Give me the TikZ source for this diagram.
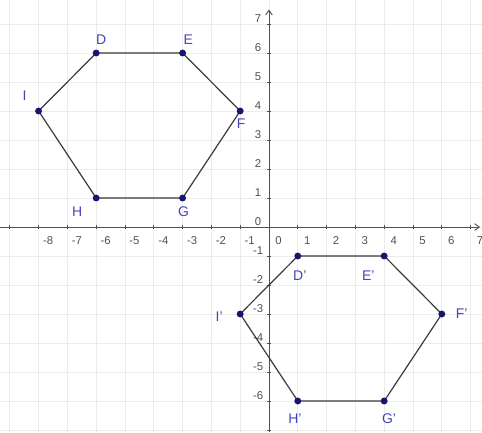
\documentclass[tikz,border=0pt]{standalone}
\usepackage{fontspec}
\setmainfont{Liberation Sans}
\usetikzlibrary{arrows.meta,calc}
\definecolor{ptcol}{HTML}{16166E}
\definecolor{lblcol}{HTML}{4545B8}
\definecolor{axcol}{HTML}{505050}
\definecolor{edgecol}{HTML}{3A3A3A}
\definecolor{gridcol}{HTML}{ECECEC}
\tikzset{
  gridline/.style={draw=gridcol, line width=0.6pt},
  axisline/.style={draw=axcol, line width=0.7pt},
  tickmark/.style={draw=axcol, line width=0.5pt},
  ticklbl/.style={text=axcol, font=\fontsize{8.5}{9}\selectfont, inner sep=0pt},
  edge/.style={draw=edgecol, line width=0.9pt, line join=round},
  ptdot/.style={fill=ptcol},
  ptlbl/.style={text=lblcol, font=\fontsize{10.5}{11}\selectfont, inner sep=0pt}
}
\begin{document}
\begin{tikzpicture}[x=21.6pt,y=21.75pt]
\useasboundingbox (-9.34,-7.069) rectangle (7.396,7.828);
% grid
\foreach \gx in {-9,...,7} \draw[gridline] (\gx,-7.069) -- (\gx,7.828);
\foreach \gy in {-7,...,7} \draw[gridline] (-9.34,\gy) -- (7.396,\gy);
% axes
\coordinate (xs) at (-9.34,0);
\coordinate (xe) at (7.33,0);
\coordinate (ys) at (0,-7.069);
\coordinate (ye) at (0,7.5);
\draw[axisline,-{Straight Barb[length=3.5pt,width=5pt]}] (xs) -- (xe);
\draw[axisline,-{Straight Barb[length=3.5pt,width=5pt]}] (ys) -- (ye);
% ticks
\foreach \tx in {-9,...,-1,1,2,...,7} \draw[tickmark] (\tx,-0.08) -- (\tx,0.08);
\foreach \ty in {-7,...,-1,1,2,...,7} \draw[tickmark] (-0.08,\ty) -- (0.08,\ty);
\foreach \tx in {-8,...,7} \node[ticklbl] (xl\tx) at (\tx+0.33,-0.48) {\tx};
\foreach \ty in {-6,...,7} \node[ticklbl] (yl\ty) at (-0.38,\ty+0.2) {\ty};
% original hexagon
\coordinate (D) at (-6,6);
\coordinate (E) at (-3,6);
\coordinate (F) at (-1,4);
\coordinate (G) at (-3,1);
\coordinate (H) at (-6,1);
\coordinate (I) at (-8,4);
\draw[edge] (D) -- (E) -- (F) -- (G) -- (H) -- (I) -- cycle;
% image hexagon
\coordinate (D') at (1,-1);
\coordinate (E') at (4,-1);
\coordinate (F') at (6,-3);
\coordinate (G') at (4,-6);
\coordinate (H') at (1,-6);
\coordinate (I') at (-1,-3);
\draw[edge] (D') -- (E') -- (F') -- (G') -- (H') -- (I') -- cycle;
% points
\foreach \p in {D,E,F,G,H,I,D',E',F',G',H',I'} \fill[ptdot] (\p) circle (2.6pt);
% labels
\node[ptlbl] (lD) at ($(D)+(0.17,0.45)$) {D};
\node[ptlbl] (lE) at ($(E)+(0.2,0.45)$) {E};
\node[ptlbl] (lF) at ($(F)+(0.03,-0.45)$) {F};
\node[ptlbl] (lG) at ($(G)+(0.03,-0.48)$) {G};
\node[ptlbl] (lH) at ($(H)+(-0.66,-0.48)$) {H};
\node[ptlbl] (lI) at ($(I)+(-0.49,0.52)$) {I};
\node[ptlbl] (lD') at ($(D')+(0.07,-0.69)$) {D'};
\node[ptlbl] (lE') at ($(E')+(-0.55,-0.69)$) {E'};
\node[ptlbl] (lF') at ($(F')+(0.69,0)$) {F'};
\node[ptlbl] (lG') at ($(G')+(0.17,-0.62)$) {G'};
\node[ptlbl] (lH') at ($(H')+(-0.1,-0.62)$) {H'};
\node[ptlbl] (lI') at ($(I')+(-0.73,-0.1)$) {I'};
\end{tikzpicture}
\end{document}
